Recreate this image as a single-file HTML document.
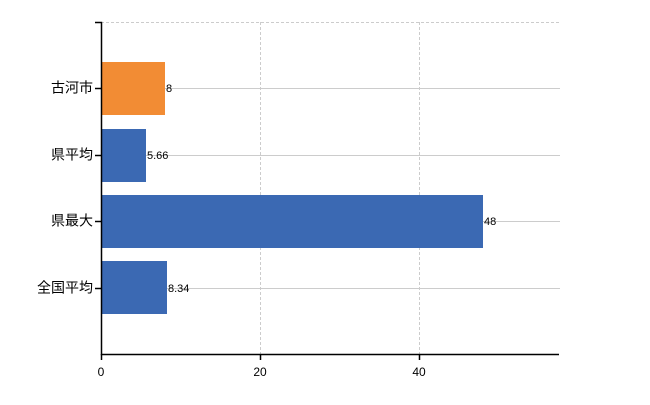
<!DOCTYPE html>
<html><head><meta charset="utf-8"><style>body{margin:0;background:#fff}</style></head><body>
<svg width="650" height="400" xmlns="http://www.w3.org/2000/svg" font-family="Liberation Sans, Noto Sans CJK JP, sans-serif">
<g stroke="#ccc" stroke-width="1">
<line x1="101" y1="22.5" x2="560" y2="22.5" stroke-dasharray="3,2"/>
<line x1="260.5" y1="22" x2="260.5" y2="354" stroke-dasharray="3,2"/>
<line x1="419.5" y1="22" x2="419.5" y2="354" stroke-dasharray="3,2"/>
<line x1="101" y1="88.5" x2="560" y2="88.5"/>
<line x1="101" y1="155.5" x2="560" y2="155.5"/>
<line x1="101" y1="221.5" x2="560" y2="221.5"/>
<line x1="101" y1="288.5" x2="560" y2="288.5"/>
</g>
<rect x="101" y="62" width="64" height="53" fill="#f28c34"/>
<rect x="101" y="129" width="45" height="53" fill="#3b69b3"/>
<rect x="101" y="195" width="382" height="53" fill="#3b69b3"/>
<rect x="101" y="261" width="66" height="53" fill="#3b69b3"/>
<g font-size="11" fill="#000" dominant-baseline="middle">
<text x="166" y="89">8</text>
<text x="147" y="156">5.66</text>
<text x="484" y="222">48</text>
<text x="168" y="289">8.34</text>
</g>
<g stroke="#000" stroke-width="1.5" fill="none">
<path d="M95 22.5H101.5V354.5H559"/>
<line x1="95" y1="88.5" x2="101" y2="88.5"/>
<line x1="95" y1="155.5" x2="101" y2="155.5"/>
<line x1="95" y1="221.5" x2="101" y2="221.5"/>
<line x1="95" y1="288.5" x2="101" y2="288.5"/>
<line x1="101.5" y1="354" x2="101.5" y2="360"/>
<line x1="260.5" y1="354" x2="260.5" y2="360"/>
<line x1="419.5" y1="354" x2="419.5" y2="360"/>
</g>
<g font-size="14" text-anchor="end" dominant-baseline="middle">
<text x="93" y="89">古河市</text>
<text x="93" y="156">県平均</text>
<text x="93" y="222">県最大</text>
<text x="93" y="289">全国平均</text>
</g>
<g font-size="12" text-anchor="middle">
<text x="101" y="376">0</text>
<text x="260" y="376">20</text>
<text x="419" y="376">40</text>
</g>
</svg>
</body></html>
